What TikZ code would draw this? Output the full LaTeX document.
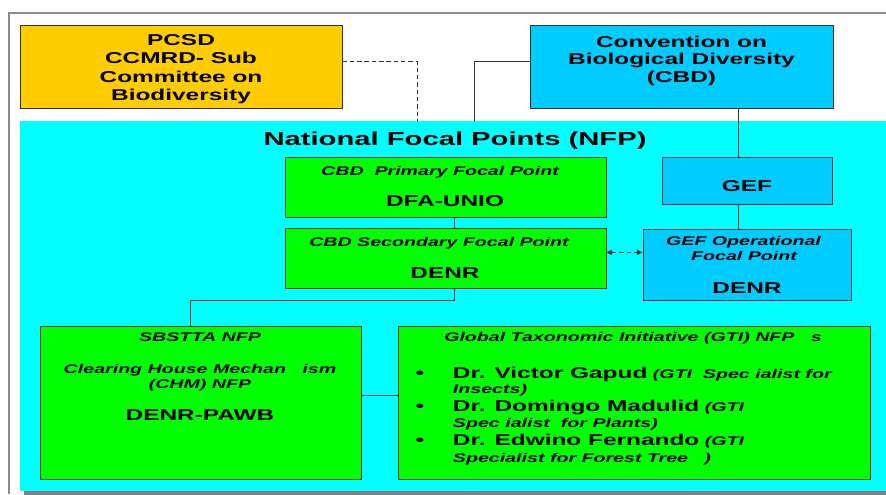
\documentclass[tikz,border=0pt]{standalone}
\usepackage{fontspec}
\setmainfont{Liberation Sans}[FakeStretch=1.55]
\usetikzlibrary{arrows.meta,positioning,fit}

\definecolor{pcsdorange}{HTML}{FFCC00}
\definecolor{cbdblue}{HTML}{00CCFF}
\definecolor{nfpcyan}{HTML}{00FFFF}
\definecolor{nfpgreen}{HTML}{00FF00}
\definecolor{edge}{HTML}{333333}

\newcommand\fbig{\fontsize{11.2}{13}\selectfont\bfseries\upshape}
\newcommand\fsml{\fontsize{9}{11}\selectfont\bfseries\itshape}
\newcommand\fttl{\fontsize{13.4}{15}\selectfont\bfseries}

\begin{document}
\begin{tikzpicture}[x=0.025cm,y=-0.025cm,>={Triangle[length=4pt,width=3.6pt]},
  box/.style={draw=edge,line width=0.7pt,inner sep=0pt},
  conn/.style={draw=edge,line width=0.7pt},
  dash line/.style={dash pattern=on 3.2pt off 2pt},
  txt/.style={anchor=base,inner sep=0pt}]
\useasboundingbox (0,0) rectangle (886,494);
% frame and NFP area
\draw[gray!90,line width=1pt] (9,494) |- (886,13);
\fill[gray] (24,125) rectangle (890,496);
\node[box,draw=none,fill=nfpcyan,fit={(20,121) (886,491)}] (nfp) {};
\node[txt,font=\fttl] (nfp-title) at (455,145) {National Focal Points (NFP)};

% boxes
\node[box,fill=pcsdorange,fit={(20,25) (342,108)}] (pcsd) {};
\node[box,fill=cbdblue,fit={(530,25) (833,108)}] (cbd) {};
\node[box,fill=nfpgreen,fit={(285,157) (606,217)}] (prim) {};
\node[box,fill=nfpgreen,fit={(285,228) (606,288)}] (sec) {};
\node[box,fill=cbdblue,fit={(662,157) (832,204)}] (gef) {};
\node[box,fill=cbdblue,fit={(643,229) (851,300)}] (gefop) {};
\node[box,fill=nfpgreen,fit={(40,326) (361,479)}] (sbs) {};
\node[box,fill=nfpgreen,fit={(398,326) (870,479)}] (gti) {};

% texts
\foreach \y/\t [count=\i] in {45/PCSD,63/CCMRD- Sub,82/Committee on,100/Biodiversity}
  \node[txt,font=\fbig] (pcsd-\i) at (181,\y) {\t};
\foreach \y/\t [count=\i] in {47/Convention on,64.5/Biological Diversity,82/(CBD)}
  \node[txt,font=\fbig] (cbd-\i) at (681.5,\y) {\t};
\node[txt,font=\fsml] (prim-1) at (440,175) {CBD\ \ Primary Focal Point};
\node[txt,font=\fbig] (prim-2) at (445,206.7) {DFA-UNIO};
\node[txt,font=\fsml] (sec-1) at (439,246.7) {CBD Secondary Focal Point};
\node[txt,font=\fbig] (sec-2) at (445,278) {DENR};
\node[txt,font=\fbig] (gef-1) at (747,191.7) {GEF};
\node[txt,font=\fsml] (gefop-1) at (743.5,245) {GEF Operational};
\node[txt,font=\fsml] (gefop-2) at (744,260.7) {Focal Point};
\node[txt,font=\fbig] (gefop-3) at (747,293.3) {DENR};
\foreach \y/\t [count=\i] in {341.7/SBSTTA NFP,373.3/Clearing House Mechan\ \ \ ism,388.3/(CHM) NFP}
  \node[txt,font=\fsml] (sbs-\i) at (200,\y) {\t};
\node[txt,font=\fbig] (sbs-4) at (200,420) {DENR-PAWB};
\node[txt,font=\fsml] (gti-0) at (633,341.7) {Global Taxonomic Initiative (GTI) NFP\ \ \ s};
\foreach \y [count=\i] in {378.3,411.7,445}
  \node[txt,font=\fbig] (bul-\i) at (420,\y) {\textbullet};
\foreach \y/\t [count=\i] in {378.3/{{\fbig Dr. Victor Gapud} (GTI\ \ Spec ialist for},
    393.3/{Insects)},
    411.7/{{\fbig Dr. Domingo Madulid} (GTI},
    427.3/{Spec ialist\ \ for Plants)},
    445/{{\fbig Dr. Edwino Fernando} (GTI},
    462.3/{Specialist for Forest Tree\ \ \ )}}
  \node[txt,anchor=base west,font=\fsml] (gti-\i) at (452.7,\y) {\t};

% connectors
\coordinate (pcsd-in) at (417,121);
\coordinate (cbd-in) at (474,121);
\draw[conn,dash line] ([yshift=3.4pt]pcsd.east) -| (pcsd-in);
\draw[conn] ([yshift=3.9pt]cbd.west) -| (cbd-in);
\draw[conn] ([xshift=-6.4pt]cbd.south -| gef.north) -- ([xshift=-6.4pt]gef.north);
\draw[conn] ([xshift=-6.4pt]gef.south) -- ([xshift=-6.4pt]gef.south |- gefop.north);
\draw[conn] ([xshift=6.7pt]prim.south) -- ([xshift=6.7pt]sec.north);
\draw[conn,dash line,<->] ([yshift=4pt]sec.east) -- ([yshift=4pt]sec.east -| gefop.west);
\draw[conn] ([xshift=6.7pt]sec.south) -- ++(0,11.7) -| ([xshift=-7.3pt]sbs.north);
\draw[conn] ([yshift=4.7pt]sbs.east) -- ([yshift=4.7pt]sbs.east -| gti.west);
\end{tikzpicture}
\end{document}
